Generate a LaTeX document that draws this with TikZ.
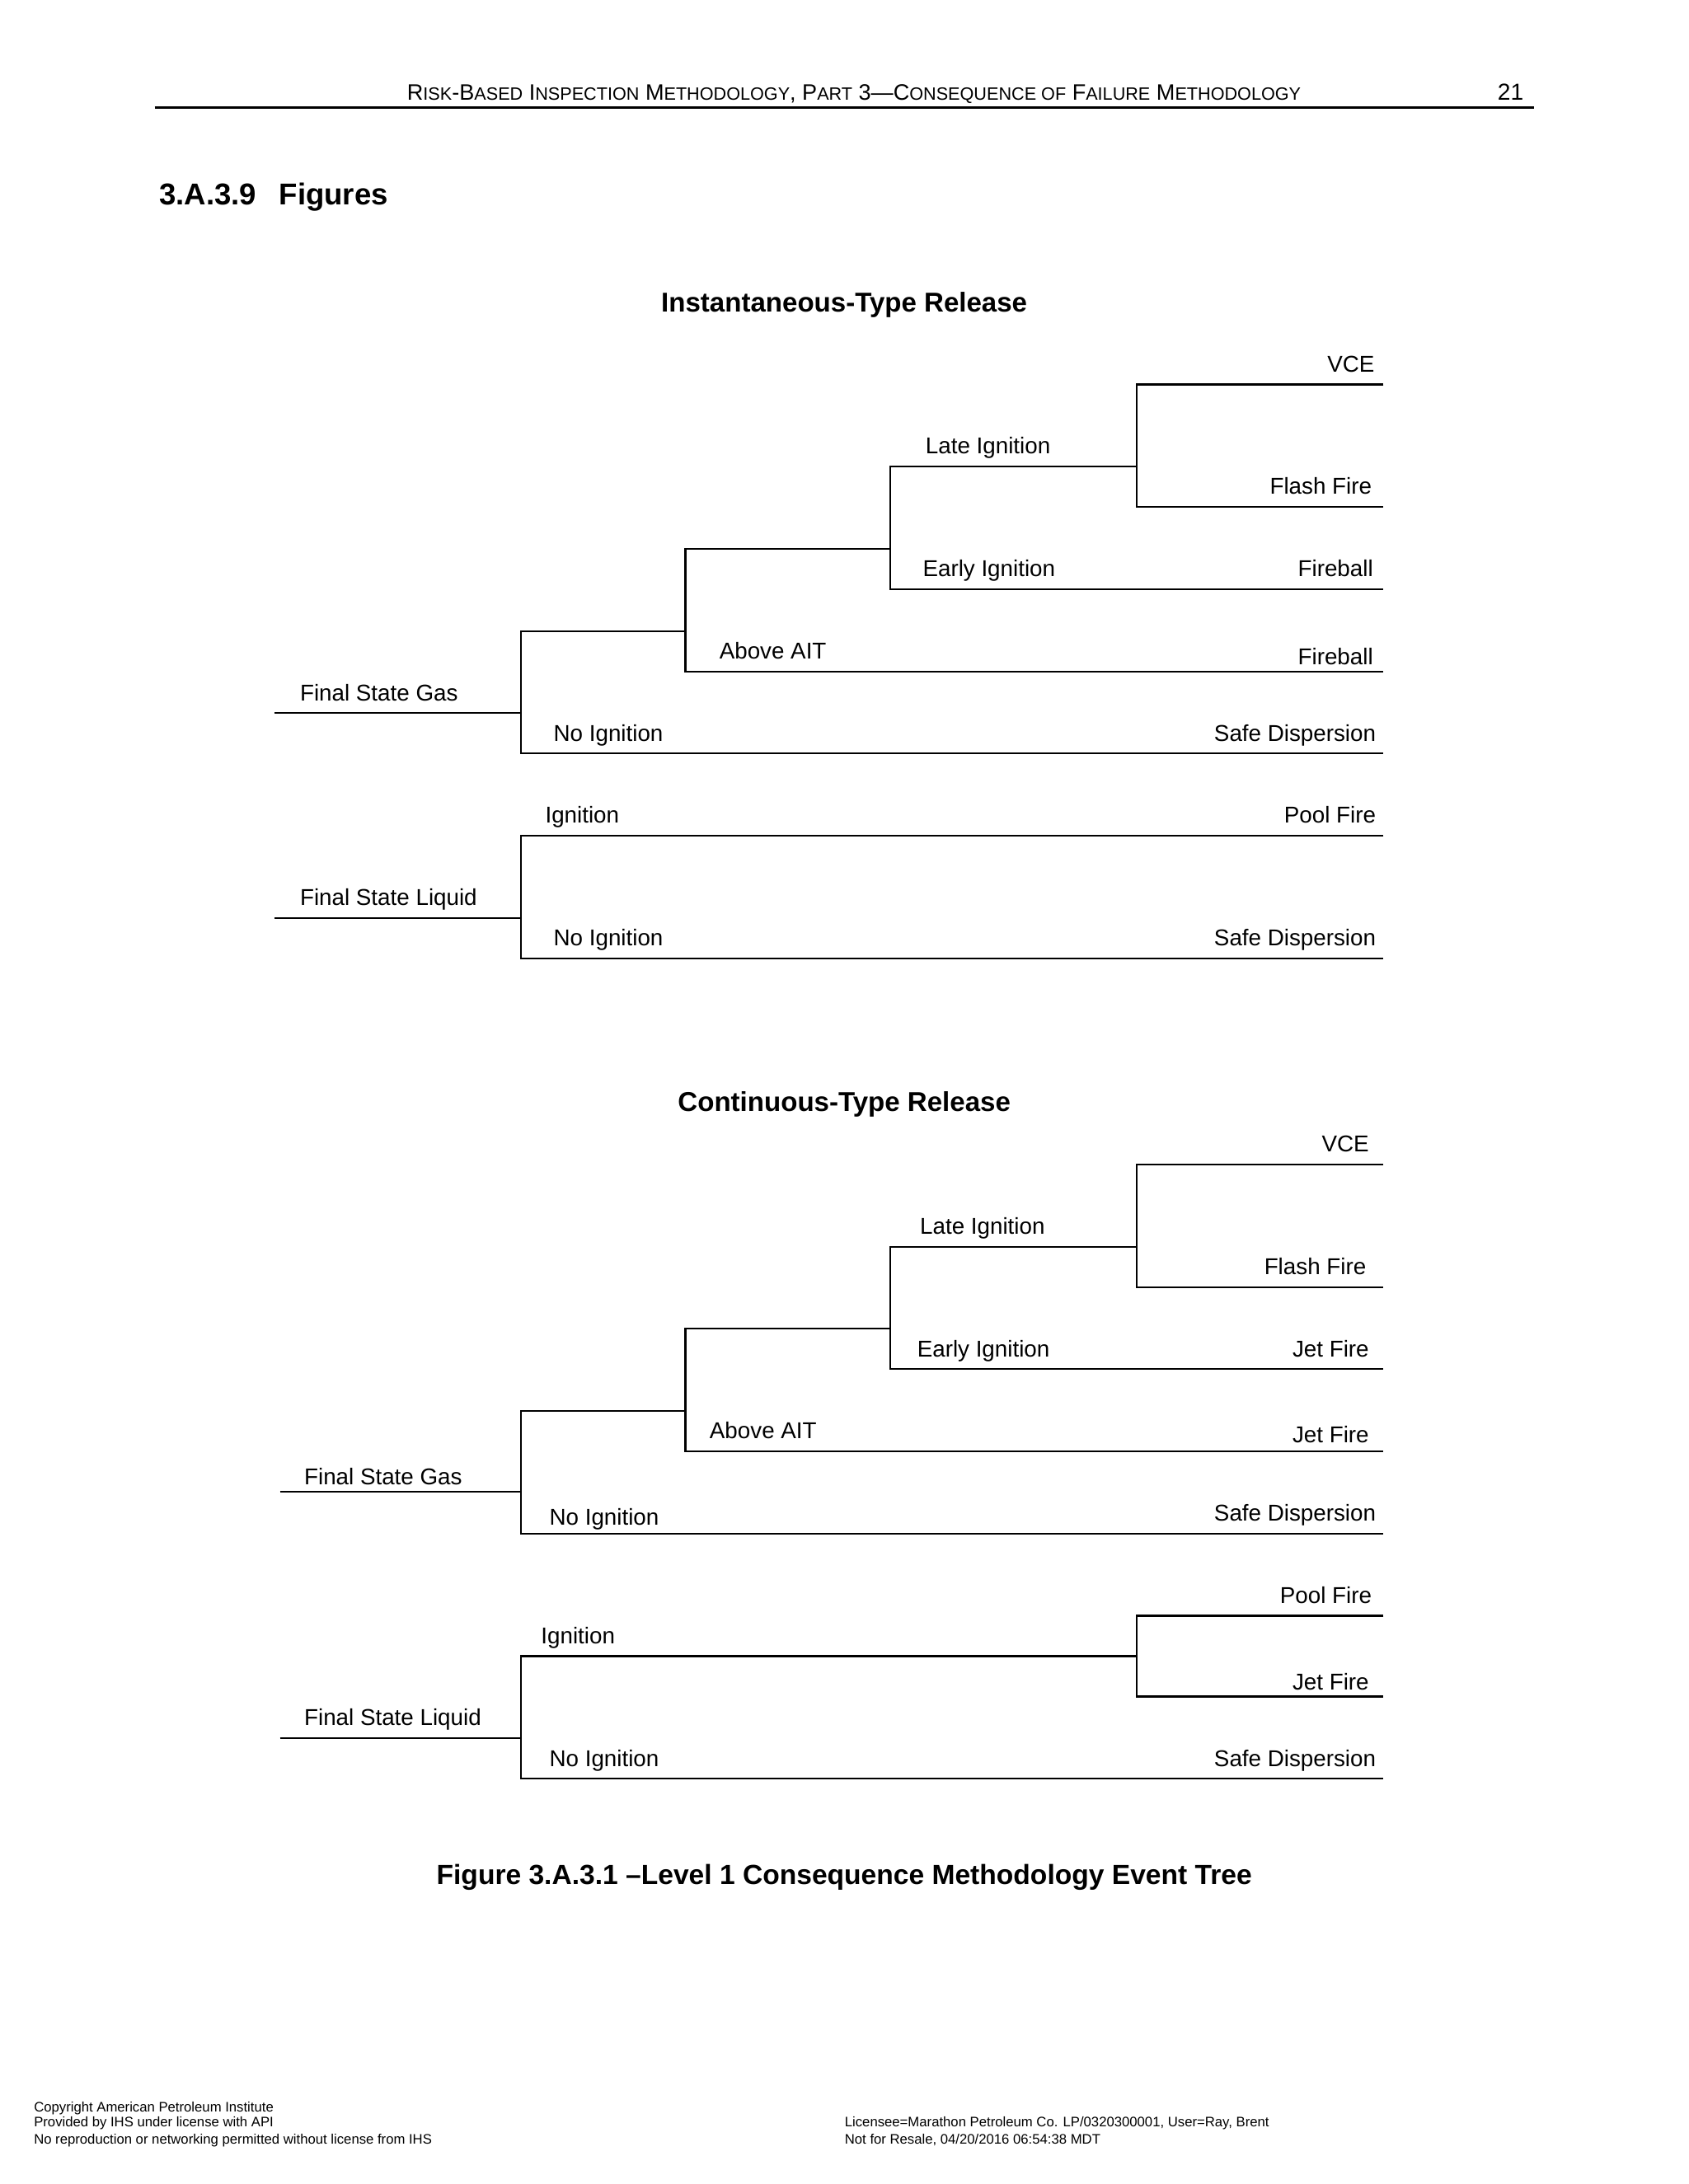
\documentclass[tikz,border=0pt]{standalone}
\usepackage{fontspec}
\setmainfont{Liberation Sans}
\newcommand\smcap[1]{{\fontsize{6.15}{7}\selectfont\MakeUppercase{#1}}}

\begin{document}
\begin{tikzpicture}[x=0.0168977cm,y=-0.0168977cm,
  branch/.style={line width=0.6pt},
  lbl/.style={inner sep=0pt,font=\fontsize{7.9}{9}\selectfont},
  lw/.style={lbl,anchor=base west},
  le/.style={lbl,anchor=base east},
  figttl/.style={inner sep=0pt,anchor=base,font=\fontsize{9.4}{11}\selectfont\bfseries},
  foot/.style={inner sep=0pt,anchor=base west,font=\fontsize{4.75}{6}\selectfont}]
\useasboundingbox (0,0) rectangle (1212,1568);
% page header
\node[inner sep=0pt,anchor=base,font=\fontsize{7.7}{9}\selectfont] (head) at (613,72)
  {R\smcap{isk}-B\smcap{ased} I\smcap{nspection} M\smcap{ethodology}, P\smcap{art} 3—C\smcap{onsequence of} F\smcap{ailure} M\smcap{ethodology}};
\node[inner sep=0pt,anchor=base east,font=\fontsize{8}{9}\selectfont] (pagenum) at (1094,72) {21};
\draw[line width=0.8pt] (111,77) -- (1101,77);
\node[inner sep=0pt,anchor=base west,font=\fontsize{10.4}{12}\selectfont\bfseries] (secnum) at (114,147) {3.A.3.9};
\node[inner sep=0pt,anchor=base west,font=\fontsize{10.4}{12}\selectfont\bfseries] (sectitle) at (200,147) {Figures};

% instantaneous release
\node[figttl] (ittl) at (606,224) {Instantaneous-Type Release};
\coordinate (iGas) at (197,512); \coordinate (iLiq) at (197,659);
\coordinate (iF1) at (374,512); \coordinate (iF2) at (492,453); \coordinate (iF3) at (639,394);
\coordinate (iF4) at (816,335); \coordinate (iF5) at (374,659);
\coordinate (iVCE) at (993,276); \coordinate (iFlash) at (993,364); \coordinate (iEarly) at (993,423);
\coordinate (iAbove) at (993,482); \coordinate (iNoGas) at (993,541); \coordinate (iIgn) at (993,600);
\coordinate (iNoLiq) at (993,688);
\draw[branch] (iGas) -- (iF1); \draw[branch] (iLiq) -- (iF5);
\foreach \t/\f/\b in {iF2/iF1/iNoGas,iF3/iF2/iAbove,iF4/iF3/iEarly,iVCE/iF4/iFlash,iIgn/iF5/iNoLiq}
  \draw[branch] (\t) -- (\t -| \f) -- (\b -| \f) -- (\b);
\node[lw] (iGasL) at (215,503) {Final State Gas};
\node[lw] (iLateL) at (664,326) {Late Ignition};
\node[lw] (iEarlyL) at (662,414) {Early Ignition};
\node[lw] (iAboveL) at (516,473) {Above AIT};
\node[lw] (iNoGasL) at (397,532) {No Ignition};
\node[lw] (iIgnL) at (391,591) {Ignition};
\node[lw] (iLiqL) at (215,650) {Final State Liquid};
\node[lw] (iNoLiqL) at (397,679) {No Ignition};
\node[le] (iVCEL) at (987,267) {VCE};
\node[le] (iFlashL) at (985,355) {Flash Fire};
\node[le] (iBall1L) at (986,414) {Fireball};
\node[le] (iBall2L) at (986,477) {Fireball};
\node[le] (iSafe1L) at (988,532) {Safe Dispersion};
\node[le] (iPoolL) at (988,591) {Pool Fire};
\node[le] (iSafe2L) at (988,679) {Safe Dispersion};

% continuous release
\node[figttl] (cttl) at (606,798) {Continuous-Type Release};
\coordinate (cGas) at (201,1071); \coordinate (cLiq) at (201,1248);
\coordinate (cF1) at (374,1071); \coordinate (cF2) at (492,1013); \coordinate (cF3) at (639,954);
\coordinate (cF4) at (816,895); \coordinate (cF5) at (374,1248); \coordinate (cF6) at (816,1189);
\coordinate (cVCE) at (993,836); \coordinate (cFlash) at (993,924); \coordinate (cEarly) at (993,983);
\coordinate (cAbove) at (993,1042); \coordinate (cNoGas) at (993,1101); \coordinate (cPool) at (993,1160);
\coordinate (cJet) at (993,1218); \coordinate (cNoLiq) at (993,1277);
\draw[branch] (cGas) -- (cF1); \draw[branch] (cLiq) -- (cF5);
\foreach \t/\f/\b in {cF2/cF1/cNoGas,cF3/cF2/cAbove,cF4/cF3/cEarly,cVCE/cF4/cFlash,cF6/cF5/cNoLiq,cPool/cF6/cJet}
  \draw[branch] (\t) -- (\t -| \f) -- (\b -| \f) -- (\b);
\node[lw] (cGasL) at (218,1066) {Final State Gas};
\node[lw] (cLateL) at (660,886) {Late Ignition};
\node[lw] (cEarlyL) at (658,974) {Early Ignition};
\node[lw] (cAboveL) at (509,1033) {Above AIT};
\node[lw] (cNoGasL) at (394,1095) {No Ignition};
\node[lw] (cIgnL) at (388,1180) {Ignition};
\node[lw] (cLiqL) at (218,1239) {Final State Liquid};
\node[lw] (cNoLiqL) at (394,1268) {No Ignition};
\node[le] (cVCEL) at (983,827) {VCE};
\node[le] (cFlashL) at (981,915) {Flash Fire};
\node[le] (cJet1L) at (983,974) {Jet Fire};
\node[le] (cJet2L) at (983,1036) {Jet Fire};
\node[le] (cSafe1L) at (988,1092) {Safe Dispersion};
\node[le] (cPoolL) at (985,1151) {Pool Fire};
\node[le] (cJet3L) at (983,1213) {Jet Fire};
\node[le] (cSafe2L) at (988,1268) {Safe Dispersion};

\node[figttl,font=\fontsize{9.55}{11}\selectfont\bfseries] (caption) at (606,1353) {Figure 3.A.3.1 –Level 1 Consequence Methodology Event Tree};

% page footer
\node[foot] (foot1) at (24,1516) {Copyright American Petroleum Institute};
\node[foot] (foot2) at (24,1527) {Provided by IHS under license with API};
\node[foot] (foot3) at (24,1539) {No reproduction or networking permitted without license from IHS};
\node[foot] (foot4) at (606,1527) {Licensee=Marathon Petroleum Co. LP/0320300001, User=Ray, Brent};
\node[foot] (foot5) at (606,1539) {Not for Resale, 04/20/2016 06:54:38 MDT};
\end{tikzpicture}
\end{document}
